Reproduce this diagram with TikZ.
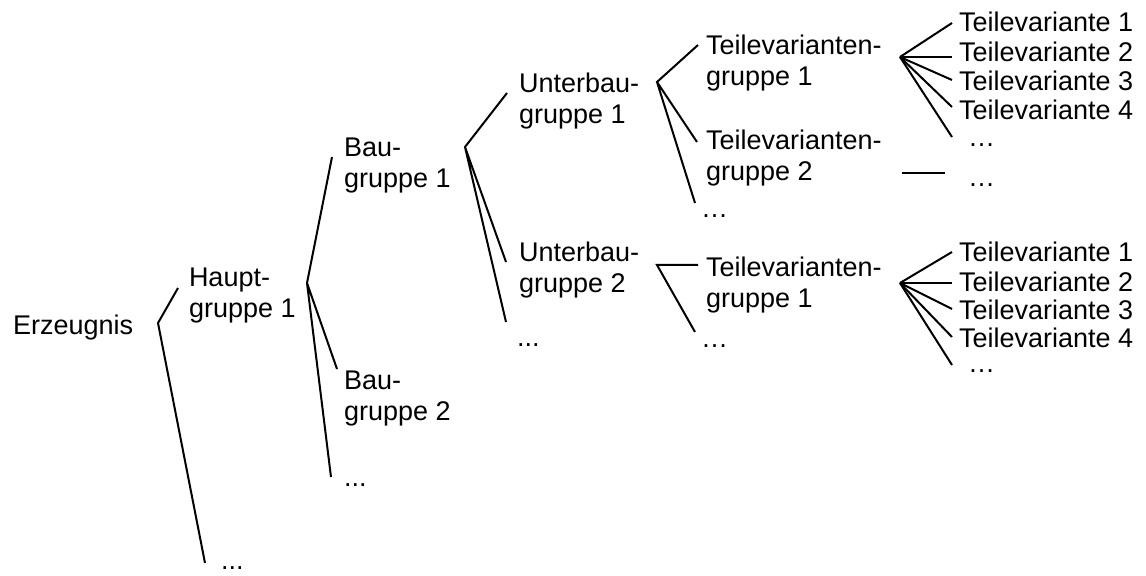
\documentclass[tikz,border=0pt]{standalone}
\usepackage{fontspec}
\setmainfont{Liberation Sans}

\begin{document}
\begin{tikzpicture}[x=0.5pt,y=-0.5pt,line width=1pt,
  lbl/.style={anchor=base west,inner sep=0pt,align=left,
    font=\fontsize{13.5}{15.5}\selectfont}]
\useasboundingbox (0,0) rectangle (1146,576);

% Stufen der Erzeugnisstruktur (base = Grundlinie der letzten Zeile)
\node[lbl] (erz) at (12,335) {Erzeugnis};
\node[lbl] (hg1) at (188,318) {Haupt-\\gruppe 1};
\node[lbl] (hgx) at (220,570) {...};
\node[lbl] (bg1) at (343,188) {Bau-\\gruppe 1};
\node[lbl] (bg2) at (343,421) {Bau-\\gruppe 2};
\node[lbl] (bgx) at (343,487) {...};
\node[lbl] (ubg1) at (518,124) {Unterbau-\\gruppe 1};
\node[lbl] (ubg2) at (518,293) {Unterbau-\\gruppe 2};
\node[lbl] (ubgx) at (516,347) {...};
\node[lbl] (tvg11) at (705,86) {Teilevarianten-\\gruppe 1};
\node[lbl] (tvg12) at (705,181) {Teilevarianten-\\gruppe 2};
\node[lbl] (tvg1x) at (700,218) {…};
\node[lbl] (tvg21) at (705,308) {Teilevarianten-\\gruppe 1};
\node[lbl] (tvg2x) at (700,348) {…};
\foreach \i/\y in {1/32,2/62,3/91,4/120}
  \node[lbl] (tv1\i) at (958,\y) {Teilevariante \i};
\node[lbl] (tv1x) at (967,147) {…};
\node[lbl] (tv1y) at (967,187) {…};
\foreach \i/\y in {1/262,2/292,3/320,4/348}
  \node[lbl] (tv2\i) at (958,\y) {Teilevariante \i};
\node[lbl] (tv2x) at (967,373) {…};

% Verzweigungspunkte und Linienenden
\coordinate (erz-r) at (158,323);
\coordinate (hg1-l) at (178,288);
\coordinate (hgx-l) at (205,563);
\coordinate (hg1-r) at (307,283);
\coordinate (bg1-l) at (332,157);
\coordinate (bg2-l) at (337,369);
\coordinate (bgx-l) at (331,477);
\coordinate (bg1-r) at (465,147);
\coordinate (ubg1-l) at (507,93);
\coordinate (ubg2-l) at (506,262);
\coordinate (ubgx-l) at (506,322);
\coordinate (ubg1-r) at (657,82);
\coordinate (tvg11-l) at (698,45);
\coordinate (tvg12-l) at (697,142);
\coordinate (tvg1x-l) at (695,203);
\coordinate (ubg2-r) at (657,265);
\coordinate (tvg21-l) at (698,265);
\coordinate (tvg2x-l) at (695,332);
\coordinate (tvg11-r) at (900,57);
\coordinate (tvg12-r) at (902,173);
\coordinate (tv1y-l) at (945,173);
\coordinate (tvg21-r) at (900,283);
\foreach \i/\y in {1/23,2/57,3/80,4/107,x/137}
  \coordinate (tv1\i-l) at (952,\y);
\foreach \i/\y in {1/252,2/283,3/309,4/337,x/365}
  \coordinate (tv2\i-l) at (952,\y);

\draw (hg1-l) -- (erz-r) -- (hgx-l);
\draw (bg1-l) -- (hg1-r) -- (bg2-l) (hg1-r) -- (bgx-l);
\draw (ubg1-l) -- (bg1-r) -- (ubg2-l) (bg1-r) -- (ubgx-l);
\draw (tvg11-l) -- (ubg1-r) -- (tvg12-l) (ubg1-r) -- (tvg1x-l);
\draw (tvg21-l) -- (ubg2-r) -- (tvg2x-l);
\draw (tvg12-r) -- (tv1y-l);
\foreach \i in {1,2,3,4,x}{
  \draw (tvg11-r) -- (tv1\i-l);
  \draw (tvg21-r) -- (tv2\i-l);
}
\end{tikzpicture}
\end{document}
